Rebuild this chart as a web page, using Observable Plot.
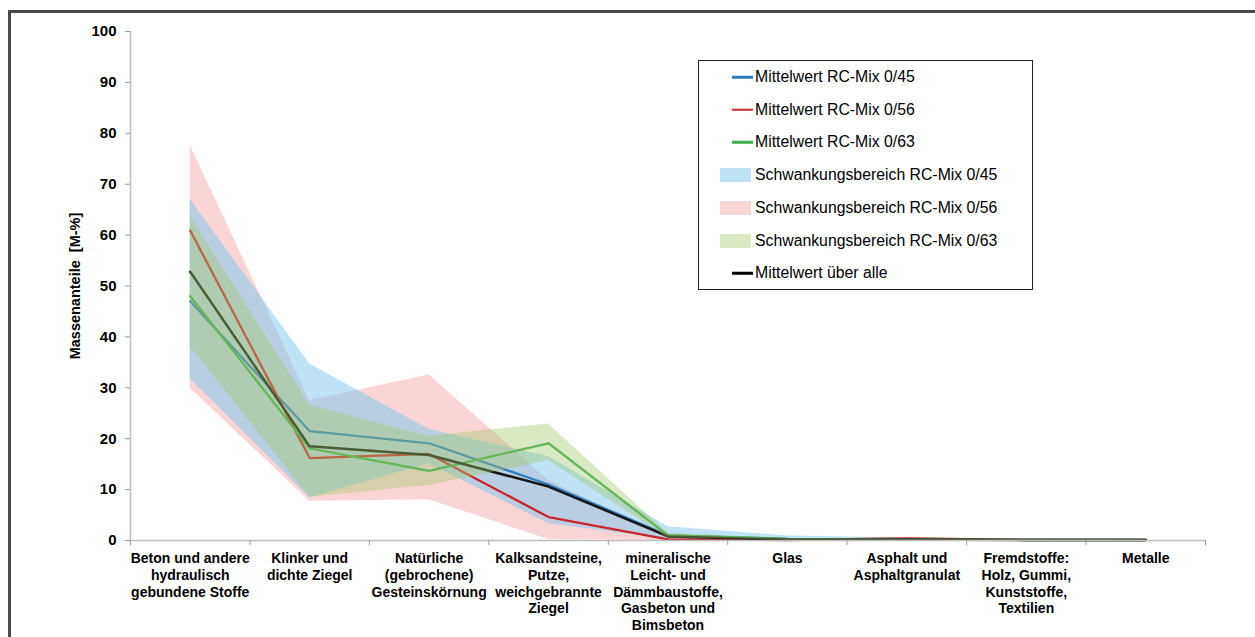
<!DOCTYPE html>
<html>
<head>
<meta charset="utf-8">
<script src="https://cdn.jsdelivr.net/npm/d3@7"></script>
<script src="https://cdn.jsdelivr.net/npm/@observablehq/plot@0.6"></script>
<style>
  html, body { margin: 0; padding: 0; background: #fff; overflow: hidden; }
  body { width: 1255px; height: 637px; position: relative; font-family: "Liberation Sans", Arial, sans-serif; }
  #frame { position: absolute; left: 8px; top: 10px; width: 1300px; height: 700px; border-left: 3px solid #4a4a4a; border-top: 3px solid #4a4a4a; box-sizing: border-box; }
  #chart { position: absolute; left: 0; top: 0; }
  #legend { position: absolute; left: 698px; top: 60px; width: 335px; height: 230px; border: 1px solid #222; box-sizing: border-box; background: #fff; }
  .entry { position: absolute; left: 0; height: 20px; width: 100%; }
  .entry .txt { position: absolute; left: 56px; top: 50%; transform: translateY(-50%); font-size: 15.8px; color: #000; white-space: nowrap; }
  .entry .ln { position: absolute; left: 33px; width: 21px; height: 2.5px; top: 50%; transform: translateY(-50%); }
  .entry .bx { position: absolute; left: 21px; width: 31px; height: 14px; top: 50%; transform: translateY(-50%); }
</style>
</head>
<body>
<div id="frame"></div>
<div id="chart"></div>
<div id="legend"></div>
<script>
// ---- data ----
const categories = [
  "Beton und andere\nhydraulisch\ngebundene Stoffe",
  "Klinker und\ndichte Ziegel",
  "Natürliche\n(gebrochene)\nGesteinskörnung",
  "Kalksandsteine,\nPutze,\nweichgebrannte\nZiegel",
  "mineralische\nLeicht- und\nDämmbaustoffe,\nGasbeton und\nBimsbeton",
  "Glas",
  "Asphalt und\nAsphaltgranulat",
  "Fremdstoffe:\nHolz, Gummi,\nKunststoffe,\nTextilien",
  "Metalle"
];
const mean045 = [47.0, 21.5, 19.1, 11.0, 1.0, 0.3, 0.2, 0.1, 0.1];
const mean056 = [60.9, 16.2, 17.0, 4.6, 0.2, 0.1, 0.4, 0.1, 0.1];
const mean063 = [48.0, 18.1, 13.7, 19.1, 1.0, 0.3, 0.2, 0.1, 0.1];
const meanAll = [52.8, 18.5, 16.8, 10.6, 0.8, 0.2, 0.2, 0.1, 0.1];
const min045 = [31.8, 8.4, 15.1, 3.3, 0.3, 0.1, 0.05, 0.0, 0.0];
const max045 = [67.0, 34.7, 21.8, 16.5, 2.7, 0.9, 0.5, 0.3, 0.2];
const min056 = [29.9, 7.7, 8.0, 0.2, 0.0, 0.0, 0.0, 0.0, 0.0];
const max056 = [77.6, 27.5, 32.5, 11.8, 0.6, 0.3, 0.6, 0.3, 0.2];
const min063 = [38.1, 8.5, 10.8, 15.7, 0.5, 0.1, 0.05, 0.0, 0.0];
const max063 = [63.7, 26.5, 20.5, 22.9, 1.4, 0.4, 0.3, 0.2, 0.2];
const yTicks = [0, 10, 20, 30, 40, 50, 60, 70, 80, 90, 100];
const yLabel = "Massenanteile  [M-%]";
const seriesNames = [
  "Mittelwert RC-Mix 0/45", "Mittelwert RC-Mix 0/56", "Mittelwert RC-Mix 0/63",
  "Schwankungsbereich RC-Mix 0/45", "Schwankungsbereich RC-Mix 0/56", "Schwankungsbereich RC-Mix 0/63",
  "Mittelwert über alle"
];

// ---- styles ----
const C = {
  m45: "#2f7ec1", m56: "#c8262c", m63: "#3cab4b", all: "#151515",
  b45: "#7bc7eb", b56: "#f3abad", b63: "#9fc86b"
};

const rows = categories.map((c, i) => ({
  x: i + 0.5, cat: c,
  m45: mean045[i], m56: mean056[i], m63: mean063[i], all: meanAll[i],
  lo45: min045[i], hi45: max045[i], lo56: min056[i], hi56: max056[i], lo63: min063[i], hi63: max063[i]
}));

const font = "'Liberation Sans', Arial, sans-serif";
const nCat = categories.length;
// x position (in x-scale units) for the y-axis title, 55px left of the axis
const yLabelX = -55 / ((1255 - 130 - 50) / nCat);

const chart = Plot.plot({
  width: 1255,
  height: 637,
  marginLeft: 130,
  marginRight: 50,
  marginTop: 31,
  marginBottom: 97,
  style: { fontFamily: font, background: "transparent", overflow: "visible" },
  x: { domain: [0, nCat], axis: null },
  y: { domain: [0, 100], axis: null },
  marks: [
    Plot.areaY(rows, { x: "x", y1: "lo56", y2: "hi56", fill: C.b56, fillOpacity: 0.5 }),
    Plot.areaY(rows, { x: "x", y1: "lo45", y2: "hi45", fill: C.b45, fillOpacity: 0.5 }),
    Plot.lineY(rows, { x: "x", y: "m45", stroke: C.m45, strokeWidth: 2.3 }),
    Plot.lineY(rows, { x: "x", y: "m56", stroke: C.m56, strokeWidth: 2.3 }),
    Plot.lineY(rows, { x: "x", y: "m63", stroke: C.m63, strokeWidth: 2.3 }),
    Plot.lineY(rows, { x: "x", y: "all", stroke: C.all, strokeWidth: 2.5 }),
    Plot.areaY(rows, { x: "x", y1: "lo63", y2: "hi63", fill: C.b63, fillOpacity: 0.4 }),
    // axes lines
    Plot.ruleX([0], { y1: 0, y2: 100, stroke: "#bdbdbd", strokeWidth: 1.5 }),
    Plot.ruleY([0], { x1: 0, x2: nCat, stroke: "#bdbdbd", strokeWidth: 1.5 }),
    Plot.axisY({ ticks: yTicks, tickSize: 5, tickPadding: 9, stroke: "#9a9a9a", fill: "#000", fontSize: 15, fontWeight: "bold", label: null, tickFormat: d => String(d) }),
    Plot.axisX({ ticks: d3.range(0, nCat + 1), tickSize: 5, stroke: "#9a9a9a", tickFormat: () => "", label: null }),
    Plot.text(rows, { x: "x", y: 0, text: "cat", dy: 11, lineAnchor: "top", fontSize: 14, fontWeight: "bold", lineHeight: 1.19, fill: "#000" }),
    Plot.text([yLabel], { x: () => yLabelX, y: () => 50, rotate: -90, fontSize: 14.5, fontWeight: "bold", fill: "#000" })
  ]
});
document.getElementById("chart").appendChild(chart);

// ---- legend ----
const legendItems = [
  { name: seriesNames[0], kind: "line", color: C.m45 },
  { name: seriesNames[1], kind: "line", color: C.m56 },
  { name: seriesNames[2], kind: "line", color: C.m63 },
  { name: seriesNames[3], kind: "box", color: "#bde3f5" },
  { name: seriesNames[4], kind: "box", color: "#f9d5d6" },
  { name: seriesNames[5], kind: "box", color: "#d9e9c4" },
  { name: seriesNames[6], kind: "line", color: "#000" }
];
const legend = document.getElementById("legend");
legendItems.forEach((it, i) => {
  const e = document.createElement("div");
  e.className = "entry";
  e.style.top = (16 + i * 32.7 - 10) + "px";
  const sw = document.createElement("div");
  sw.className = it.kind === "line" ? "ln" : "bx";
  sw.style.background = it.color;
  const t = document.createElement("div");
  t.className = "txt";
  t.textContent = it.name;
  e.appendChild(sw); e.appendChild(t);
  legend.appendChild(e);
});
</script>
</body>
</html>
